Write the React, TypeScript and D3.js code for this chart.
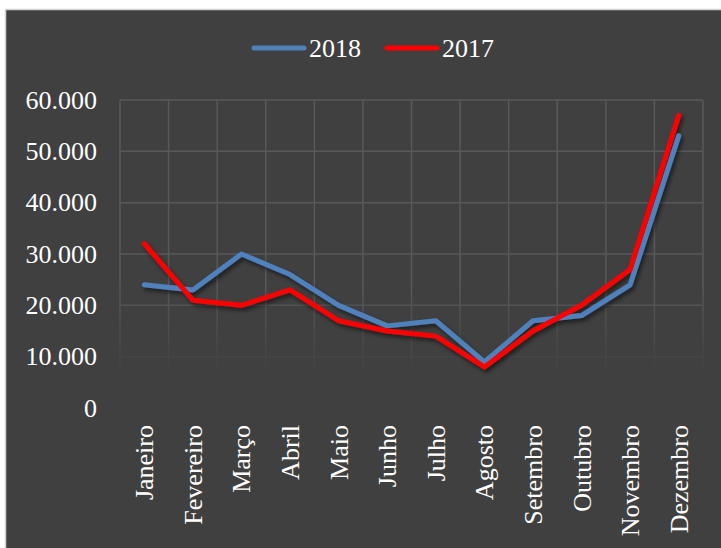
import React from "react";
import * as d3 from "d3";

const months = ["Janeiro","Fevereiro","Março","Abril","Maio","Junho","Julho","Agosto","Setembro","Outubro","Novembro","Dezembro"];
const values2018 = [24000,23000,30000,26000,20000,16000,17000,9000,17000,18000,24000,53000];
const values2017 = [32000,21000,20000,23000,17000,15000,14000,8000,15000,20000,27000,57000];
const yTicks = [0,10000,20000,30000,40000,50000,60000];
const seriesNames = ["2018","2017"];
const seriesColors = ["#4f81bd","#ff0000"];

const W = 721, H = 548;
const plot = { left: 120, right: 703, top: 100, bottom: 408 };
const FONT = "'Liberation Serif', 'Times New Roman', serif";

const fmt = (v: number) => v === 0 ? "0" : d3.format(",")(v).replace(/,/g, ".") + (v % 1000 === 0 && String(v).length <= 3 ? "" : "");

export default function App() {
  const x = d3.scaleBand<string>().domain(months).range([plot.left, plot.right]);
  const y = d3.scaleLinear().domain([0, 60000]).range([plot.bottom, plot.top]);
  const line = d3.line<number>()
    .x((_, i) => (x(months[i]) as number) + x.bandwidth() / 2)
    .y(d => y(d));
  const series = [values2018, values2017];
  const vLines = months.map(m => x(m) as number).concat([plot.right]);

  return (
    <svg width={W} height={H} style={{ position: "absolute", left: 0, top: 0 }} xmlns="http://www.w3.org/2000/svg">
      <defs>
        <linearGradient id="fade" x1="0" y1={plot.top} x2="0" y2={plot.bottom} gradientUnits="userSpaceOnUse">
          <stop offset="0" stopColor="#fff" stopOpacity="1" />
          <stop offset="0.6" stopColor="#fff" stopOpacity="1" />
          <stop offset="0.9" stopColor="#fff" stopOpacity="0" />
          <stop offset="1" stopColor="#fff" stopOpacity="0" />
        </linearGradient>
        <mask id="gridMask" maskUnits="userSpaceOnUse" x="0" y="0" width={W} height={H}>
          <rect x="0" y="0" width={W} height={H} fill="url(#fade)" />
        </mask>
        <filter id="shadow" x="-10%" y="-10%" width="130%" height="130%">
          <feDropShadow dx="2" dy="3" stdDeviation="2" floodColor="#000" floodOpacity="0.55" />
        </filter>
      </defs>
      <rect x={0} y={0} width={W} height={H} fill="#ffffff" />
      <rect x={5.5} y={9.5} width={W} height={H} fill="#404040" stroke="#d4d4d4" strokeWidth={1.5} />

      <g mask="url(#gridMask)" stroke="#595959" strokeWidth={1.5}>
        {yTicks.map(t => (
          <line key={"h" + t} x1={plot.left} x2={plot.right} y1={y(t)} y2={y(t)} />
        ))}
        {vLines.map((vx, i) => (
          <line key={"v" + i} x1={vx} x2={vx} y1={plot.top} y2={plot.bottom} />
        ))}
      </g>

      {yTicks.map(t => (
        <text key={"yl" + t} x={97} y={y(t)} dy="0.33em" textAnchor="end" fill="#ffffff"
          fontFamily={FONT} fontSize={26}>{fmt(t)}</text>
      ))}

      {months.map(m => {
        const cx = (x(m) as number) + x.bandwidth() / 2 + 9;
        return (
          <text key={m} transform={`translate(${cx},${425}) rotate(-90)`} textAnchor="end" fill="#ffffff"
            fontFamily={FONT} fontSize={26}>{m}</text>
        );
      })}

      <g filter="url(#shadow)">
        {series.map((s, i) => (
          <path key={"s" + i} d={line(s) as string} fill="none" stroke={seriesColors[i]} strokeWidth={5}
            strokeLinecap="round" strokeLinejoin="round" />
        ))}
      </g>

      {seriesNames.map((n, i) => {
        const lx = i === 0 ? 252 : 385;
        return (
          <g key={n}>
            <line x1={lx + 2} x2={lx + 52} y1={48} y2={48} stroke={seriesColors[i]} strokeWidth={5} strokeLinecap="round" />
            <text x={lx + 57} y={48} dy="0.34em" fill="#ffffff" fontFamily={FONT} fontSize={26}>{n}</text>
          </g>
        );
      })}
    </svg>
  );
}
